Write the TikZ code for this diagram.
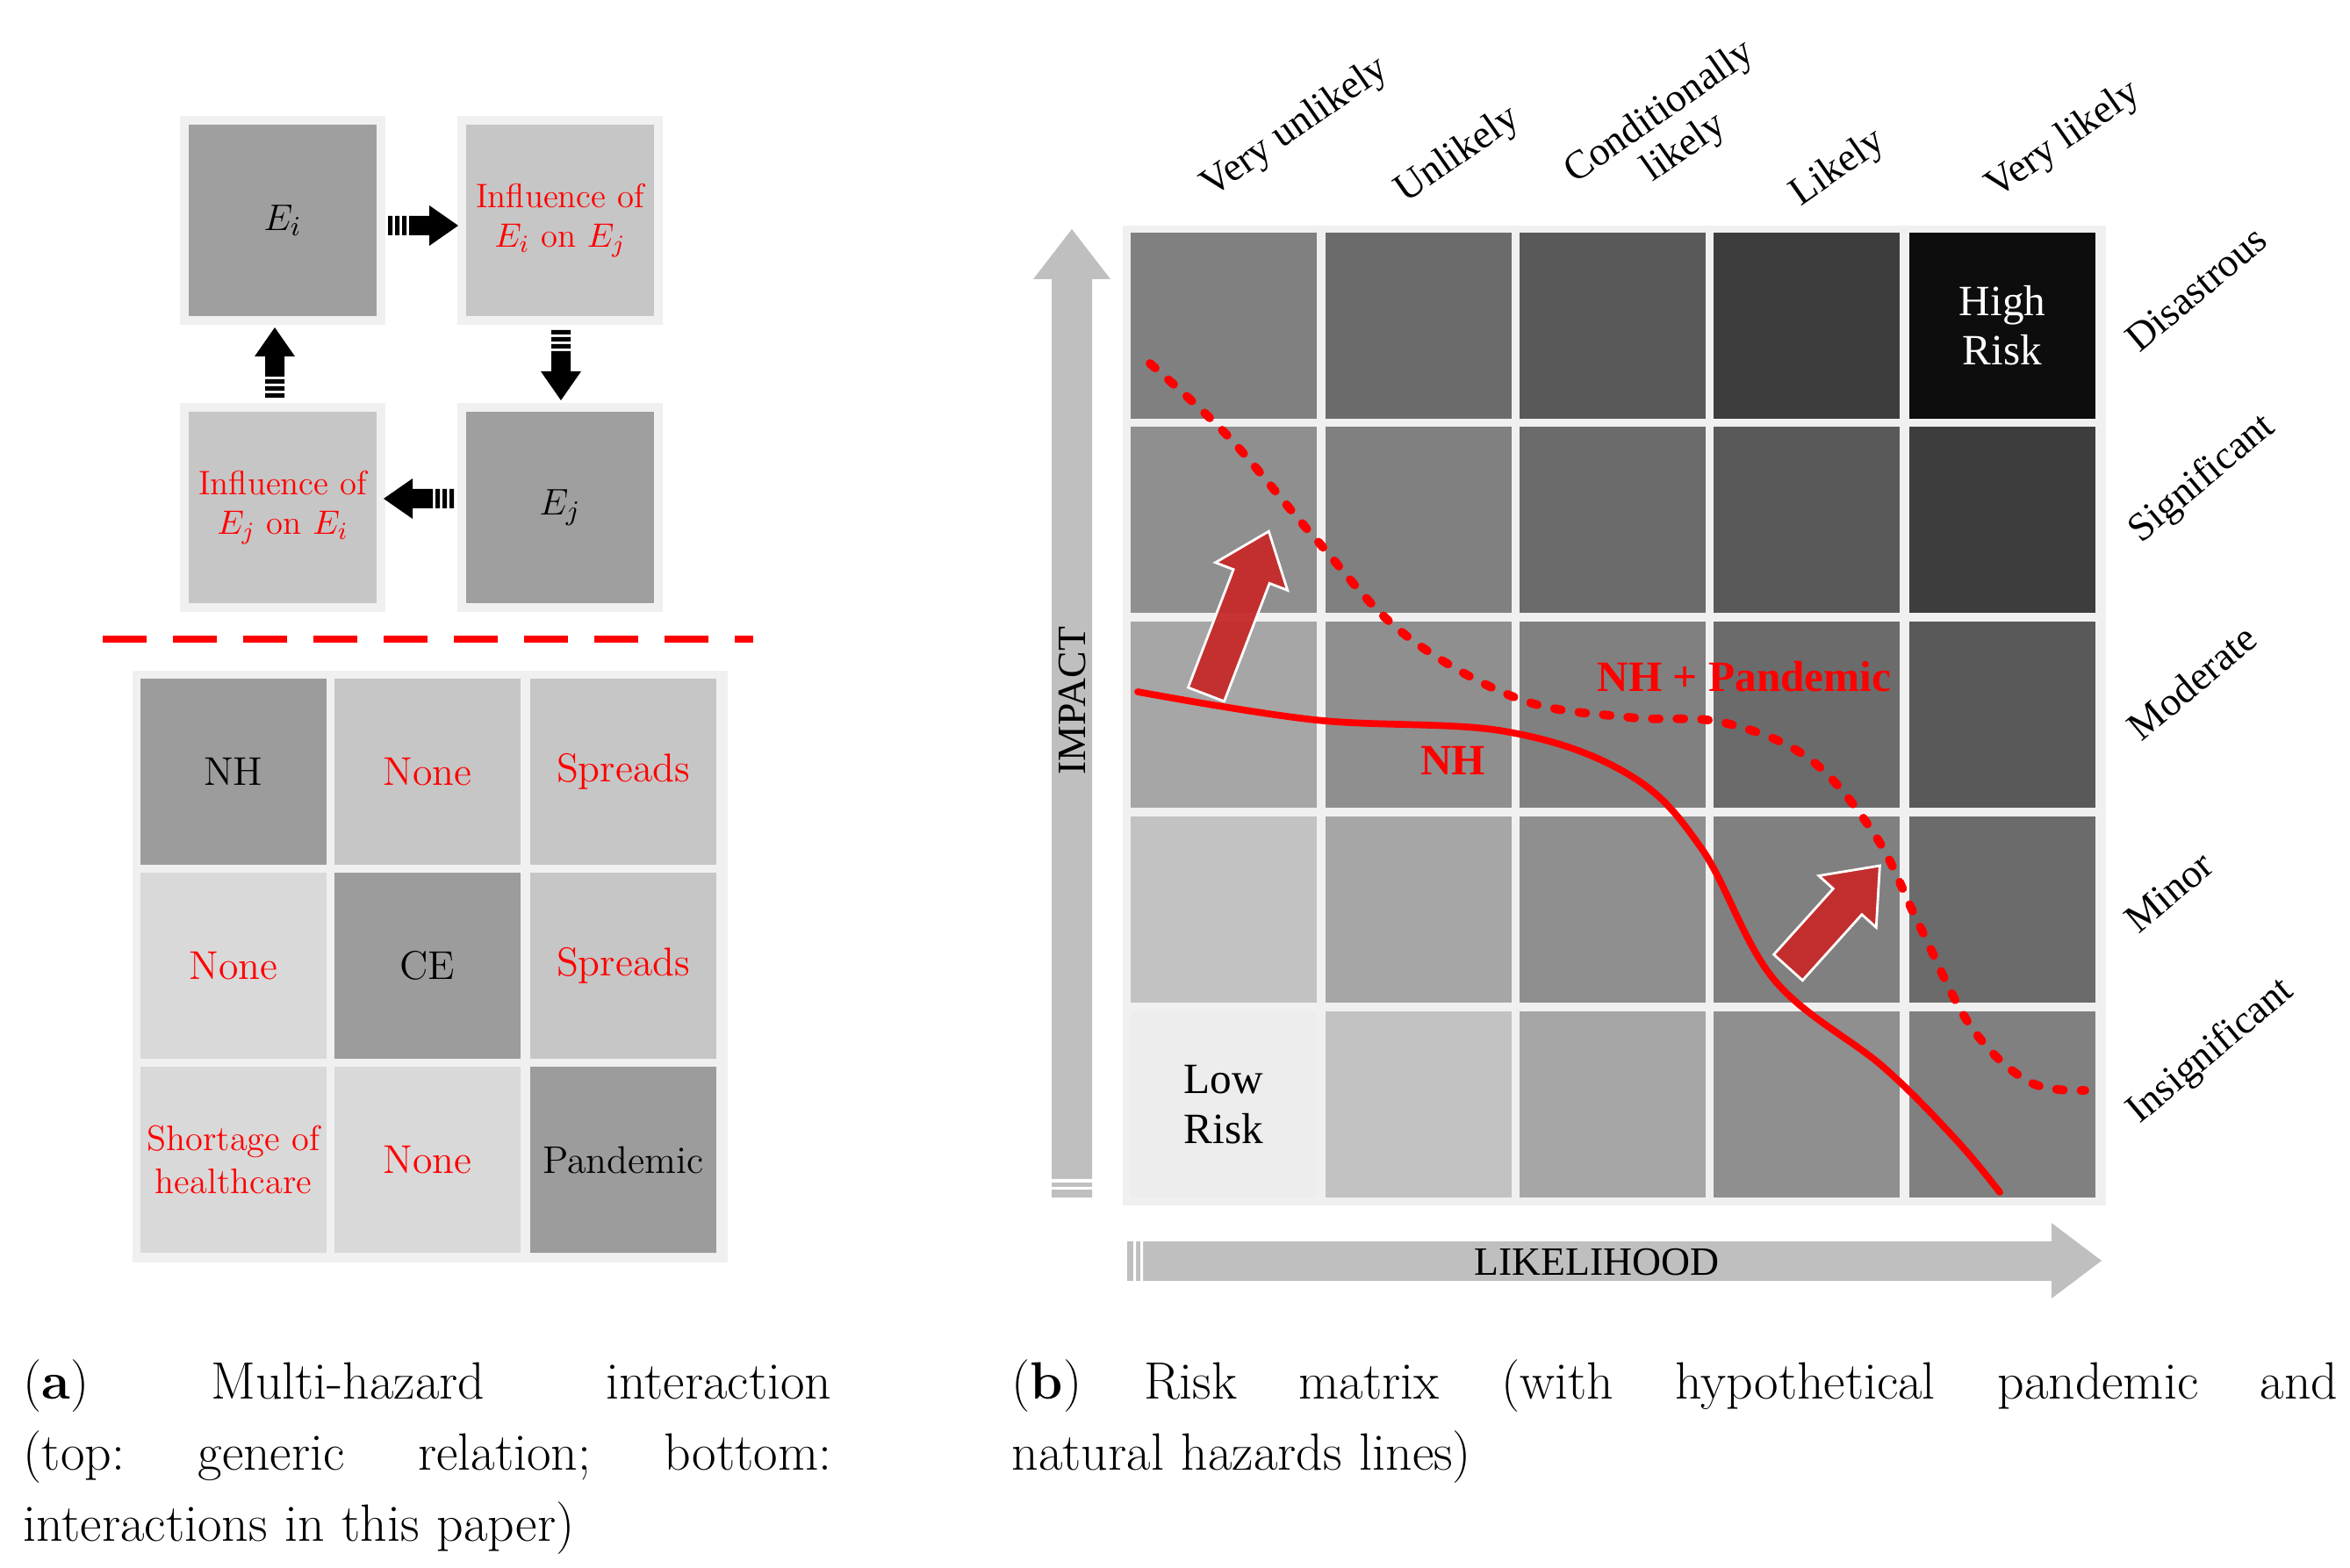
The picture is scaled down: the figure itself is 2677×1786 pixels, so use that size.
\documentclass[tikz,border=0pt]{standalone}
\usepackage{fontspec}
\usepackage{tikz}
\newfontfamily\tms{Liberation Serif}

\definecolor{hzred}{HTML}{FF0000}
\definecolor{blockred}{HTML}{C62A2A}
\definecolor{frame}{HTML}{F0F0F0}

% block arrow with a striped tail, drawn along local x
\newcommand{\stripearrow}[2]{%
  \begin{scope}[shift={#1},rotate=#2]
    \fill (0,-11) rectangle (5,11) (8,-11) rectangle (13,11) (16,-11) rectangle (21,11)
          (24,-11) rectangle (48,11);
    \fill (47,-23) -- (80,0) -- (47,23) -- cycle;
  \end{scope}}
% fat red arrow with white outline
\newcommand{\redarrow}[3]{%
  \begin{scope}[shift={#1},rotate=#2]
    \filldraw[fill=blockred,draw=white,line width=0.8pt,fill opacity=0.95]
      (0,-22) -- (#3-55,-22) -- (#3-55,-44) -- (#3,0) -- (#3-55,44) -- (#3-55,22) -- (0,22) -- cycle;
  \end{scope}}

\begin{document}
\begin{tikzpicture}[x=0.01cm,y=-0.01cm,
  cell/.style={rectangle,minimum width=2.12cm,minimum height=2.12cm,inner sep=0pt,align=center},
  box/.style={rectangle,draw=frame,line width=0.1cm,minimum width=2.24cm,minimum height=2.28cm,inner sep=0pt,align=center},
  hz/.style={font=\fontsize{13}{15}\selectfont},
  infl/.style={text=hzred,font=\fontsize{11}{13}\selectfont},
  axis label/.style={font=\tms\fontsize{13}{14}\selectfont,align=center},
  caption text/.style={font=\fontsize{17}{23}\selectfont,anchor=north west,align=left,inner sep=0pt}]

  \useasboundingbox (0,0) rectangle (2677,1786);

  % generic relation
  \node[box,fill=gray!75,hz] (ei) at (322,251) {$E_i$};
  \node[box,fill=gray!45,infl] (eiej) at (638,251) {Influence of\\$E_i$ on $E_j$};
  \node[box,fill=gray!45,infl] (ejei) at (322,578) {Influence of\\$E_j$ on $E_i$};
  \node[box,fill=gray!75,hz] (ej) at (638,578) {$E_j$};
  \stripearrow{(442,257)}{0}
  \stripearrow{(639,376)}{270}
  \stripearrow{(517,568)}{180}
  \stripearrow{(313,453)}{90}

  \draw[hzred,line width=2pt,dash pattern=on 0.5cm off 0.3cm] (117,728) -- (858,728);

  % interactions in this paper
  \fill[frame] (151,764) rectangle (829,1438);
  \node[cell,fill=gray!78,hz] (nh) at (266,879) {NH};
  \node[cell,fill=gray!45,hz,text=hzred] (nhce) at (487,879) {None};
  \node[cell,fill=gray!45,hz,text=hzred] (nhpa) at (710,879) {Spreads};
  \node[cell,fill=gray!30,hz,text=hzred] (cenh) at (266,1100) {None};
  \node[cell,fill=gray!78,hz] (ce) at (487,1100) {CE};
  \node[cell,fill=gray!45,hz,text=hzred] (cepa) at (710,1100) {Spreads};
  \node[cell,fill=gray!30,infl,font=\fontsize{11.5}{14}\selectfont] (panh) at (266,1321) {Shortage of\\healthcare};
  \node[cell,fill=gray!30,hz,text=hzred] (pace) at (487,1321) {None};
  \node[cell,fill=gray!78,font=\fontsize{12.5}{14}\selectfont] (pa) at (710,1321) {Pandemic};

  % risk matrix
  \fill[frame] (1279,257) rectangle (2399,1373);
  \foreach \x [count=\i] in {1394,1616,1837,2058,2281}
    \foreach \y [count=\j] in {371,592,814,1036,1258} {
      \pgfmathtruncatemacro{\lvl}{\i-\j}
      \ifcase\numexpr\lvl+4\relax
        \def\shade{7}\or\def\shade{24}\or\def\shade{35}\or\def\shade{44}\or
        \def\shade{50}\or\def\shade{58}\or\def\shade{65}\or\def\shade{76}\or\def\shade{95}\fi
      \node[cell,fill=black!\shade!white] (m\i\j) at (\x,\y) {};
    }
  \node[font=\tms\fontsize{14}{16}\selectfont,align=center] (low) at (m15) {Low\\Risk};
  \node[font=\tms\fontsize{14}{16}\selectfont,align=center,text=white] (high) at (m51) {High\\Risk};

  % axes
  \fill[gray!50] (1198,1364) rectangle (1244,318) (1177,318) -- (1221,261) -- (1265,318) -- cycle;
  \fill[white] (1196,1343) rectangle (1246,1347) (1196,1352) rectangle (1246,1355);
  \node[axis label,rotate=90] (impact) at (1222,798) {IMPACT};
  \fill[gray!50] (1284,1414) rectangle (2337,1459) (2337,1393) -- (2394,1436) -- (2337,1479) -- cycle;
  \fill[white] (1291,1412) rectangle (1294,1461) (1299,1412) rectangle (1302,1461);
  \node[axis label] (likelihood) at (1819,1438) {LIKELIHOOD};

  \foreach \t/\x/\y [count=\k] in {Very unlikely/1476/146,Unlikely/1661/177,Conditionally\\likely/1905/149,Likely/2094/192,Very likely/2351/160}
    \node[axis label,rotate=35] (col\k) at (\x,\y) {\t};
  \foreach \t/\x/\y [count=\k] in {Disastrous/2502/329,Significant/2509/546,Moderate/2497/777,Minor/2471/1016,Insignificant/2519/1198}
    \node[axis label,rotate=40] (row\k) at (\x,\y) {\t};

  % hazard lines
  \draw[hzred,line width=2.2pt,line cap=round] plot[smooth,tension=0.6] coordinates
    {(1296,788) (1498,820) (1714,833) (1855,882) (1938,966) (2021,1116) (2145,1215) (2228,1298) (2278,1358)};
  \draw[hzred,line width=2.8pt,line cap=round,dash pattern=on 0.08cm off 0.2cm] plot[smooth,tension=0.6] coordinates
    {(1310,414) (1399,497) (1498,613) (1598,721) (1730,796) (1855,817) (1963,823) (2062,865) (2137,953) (2186,1053) (2245,1169) (2311,1232) (2375,1242)};
  \node[text=hzred,font=\tms\bfseries\fontsize{14}{16}\selectfont] (nhpand) at (1987,771) {NH + Pandemic};
  \node[text=hzred,font=\tms\bfseries\fontsize{14}{16}\selectfont] (nhlab) at (1655,866) {NH};

  \redarrow{(1374,791)}{69}{199}
  \redarrow{(2037,1102)}{48}{156}

  % captions
  \node[caption text,text width=9.2cm] (capa) at (26,1548)
    {\makebox[9.2cm][s]{(\textbf{a})\hfill Multi-hazard\hfill interaction}\\
     \makebox[9.2cm][s]{(top:\hfill generic\hfill relation;\hfill bottom:}\\
     interactions in this paper)};
  \node[caption text,text width=15.1cm] (capb) at (1152,1548)
    {\makebox[15.1cm][s]{(\textbf{b})\hfill Risk\hfill matrix\hfill (with\hfill hypothetical\hfill pandemic\hfill and}\\
     natural hazards lines)};
\end{tikzpicture}
\end{document}
